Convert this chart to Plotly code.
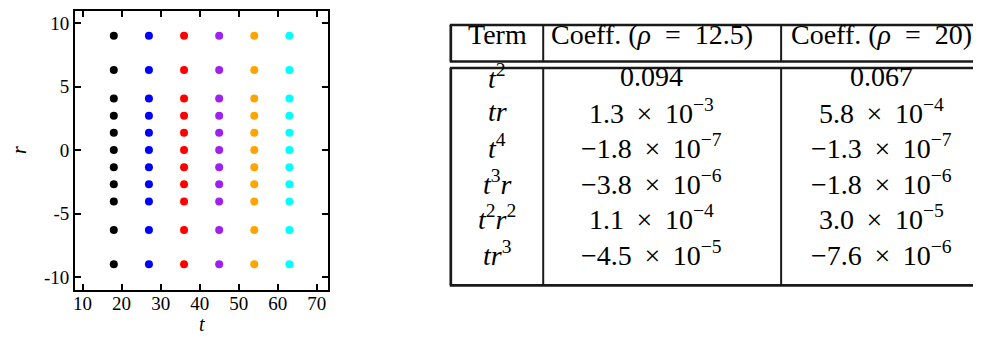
import plotly.graph_objects as go

# ---- data ----
t_values = [18, 27, 36, 45, 54, 63]
r_values = [-9, -6.3, -4.05, -2.7, -1.35, 0, 1.35, 2.7, 4.05, 6.3, 9]
series_colors = ["#000000", "#0000ff", "#ff0000", "#a020f0", "#ffa500", "#00ffff"]

x_ticks = [10, 20, 30, 40, 50, 60, 70]
y_ticks = [-10, -5, 0, 5, 10]
y_ticktext = ["-10", "-5", "0", "5", "10"]

table_header = ["Term", "Coeff. (<i>ρ</i>\u2002=\u200212.5)", "Coeff. (<i>ρ</i>\u2002=\u200220)"]
term_labels = ["<i>t</i><sup>2</sup>", "<i>tr</i>", "<i>t</i><sup>4</sup>",
               "<i>t</i><sup>3</sup><i>r</i>", "<i>t</i><sup>2</sup><i>r</i><sup>2</sup>",
               "<i>tr</i><sup>3</sup>"]
coeff_rho_12_5 = [0.094, 1.3e-3, -1.8e-7, -3.8e-6, 1.1e-4, -4.5e-5]
coeff_rho_20 = [0.067, 5.8e-4, -1.3e-7, -1.8e-6, 3.0e-5, -7.6e-6]

W, H = 981, 341
SERIF = "Liberation Serif"


def px(x):
    return x / W


def py(y):
    return 1 - y / H


def fmt(v):
    if abs(v) >= 0.01:
        return f"{v:.3f}"
    m, e = f"{v:.1e}".split("e")
    m = m.replace("-", "\u2212")
    e = int(e)
    es = ("\u2212" if e < 0 else "") + str(abs(e))
    return f"{m}\u2009 \u00d7 \u200910<sup>{es}</sup>"


fig = go.Figure()
for t, c in zip(t_values, series_colors):
    fig.add_trace(go.Scatter(
        x=[t] * len(r_values), y=r_values, mode="markers",
        marker=dict(color=c, size=8, line=dict(width=0)),
        showlegend=False, hoverinfo="skip"))

axis_common = dict(showline=True, linewidth=2, linecolor="black", mirror="allticks",
                   ticks="inside", ticklen=6, tickwidth=2, tickcolor="black",
                   showgrid=False, zeroline=False,
                   tickfont=dict(family=SERIF, size=19, color="black"))

fig.update_xaxes(domain=[px(65.3), px(318.3)], range=[8.1, 72.8],
                 tickvals=x_ticks, ticklabelstandoff=-5, **axis_common)
fig.update_yaxes(domain=[py(281.7), py(2.7)], range=[-11, 10.97],
                 tickvals=y_ticks, ticktext=y_ticktext, ticklabelstandoff=0,
                 title=dict(text="<i>r</i>", standoff=18,
                            font=dict(family=SERIF, size=20, color="black")),
                 **axis_common)

annotations = [
    dict(text="<i>t</i>", x=px(192), y=py(316), xref="paper", yref="paper", showarrow=False,
         font=dict(family=SERIF, size=20, color="black"), xanchor="center", yanchor="middle"),
]

# ---- table ----
col_centers = [488, 643, 873]
header_y = 36
row_y0, row_dy = 78, 35.4
tfont = dict(family=SERIF, size=28, color="black")
voff = 10

for cx, txt in zip(col_centers, table_header):
    annotations.append(dict(text=txt, x=px(cx), y=py(header_y - voff), xref="paper", yref="paper",
                            showarrow=False, font=tfont, xanchor="center", yanchor="middle"))

for i, (term, c1, c2) in enumerate(zip(term_labels, coeff_rho_12_5, coeff_rho_20)):
    yy = row_y0 + i * row_dy
    for cx, txt in zip(col_centers, [term, fmt(c1), fmt(c2)]):
        annotations.append(dict(text=txt, x=px(cx), y=py(yy - voff), xref="paper", yref="paper",
                                showarrow=False, font=tfont, xanchor="center", yanchor="middle"))

shapes = []
x_left, x_right = 441.7, 990
y_top, y_hb, y_bt, y_bot = 17, 53.5, 60, 277.3
for yy in [y_top, y_hb, y_bt, y_bot]:
    shapes.append(dict(type="line", xref="paper", yref="paper", x0=px(x_left - 1), x1=px(x_right),
                       y0=py(yy), y1=py(yy), line=dict(color="#1a1a1a", width=2.7)))
for xx, w in [(x_left, 2.7), (534.3, 2), (772.7, 2)]:
    for (ya, yb) in [(y_top, y_hb), (y_bt, y_bot)]:
        shapes.append(dict(type="line", xref="paper", yref="paper", x0=px(xx), x1=px(xx),
                           y0=py(ya), y1=py(yb), line=dict(color="#1a1a1a", width=w)))

fig.update_layout(width=W, height=H, margin=dict(l=0, r=0, t=0, b=0),
                  paper_bgcolor="white", plot_bgcolor="white",
                  font=dict(family=SERIF),
                  annotations=annotations, shapes=shapes)

fig.write_html("out.html")
